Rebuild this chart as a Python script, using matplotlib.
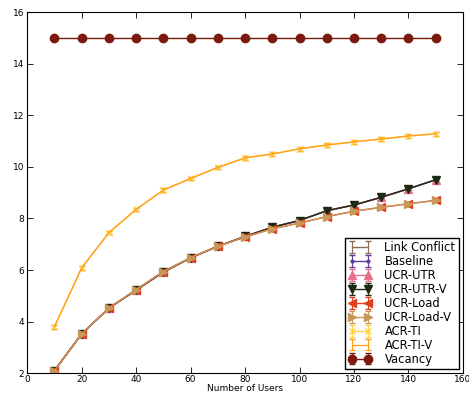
import numpy as np
from matplotlib import pyplot as plt

users = [10, 20, 30, 40, 50, 60, 70, 80, 90, 100, 110, 120, 130, 140, 150]

# upper of the two bottom curves
utr = [2.1, 3.52, 4.52, 5.22, 5.92, 6.47, 6.92, 7.3, 7.66, 7.92, 8.3, 8.52, 8.82, 9.15, 9.5]
# lower of the two bottom curves
load = [2.1, 3.52, 4.52, 5.24, 5.94, 6.48, 6.92, 7.28, 7.6, 7.82, 8.07, 8.28, 8.43, 8.57, 8.7]
acr = [3.8, 6.08, 7.45, 8.35, 9.1, 9.55, 9.98, 10.35, 10.5, 10.7, 10.85, 10.97, 11.08, 11.2, 11.28]
vacancy = [15] * 15

err = [0.07] * 15

series = [
    ("Link Conflict", utr, "#8c6d5a", None),
    ("Baseline", utr, "#5e3c99", "."),
    ("UCR-UTR", utr, "#e7708a", "^"),
    ("UCR-UTR-V", utr, "#1c2a12", "v"),
    ("UCR-Load", load, "#e0401c", "<"),
    ("UCR-Load-V", load, "#c8975a", ">"),
    ("ACR-TI", acr, "#ffd24d", "x"),
    ("ACR-TI-V", acr, "#ff9f1a", None),
    ("Vacancy", vacancy, "#7a1a0e", "o"),
]

plt.rcParams['xtick.direction'] = 'in'
plt.rcParams['ytick.direction'] = 'in'
plt.rcParams['xtick.top'] = True
plt.rcParams['ytick.right'] = True

fig = plt.figure(figsize=(4.69, 3.94), dpi=100)
ax = fig.add_axes([0.058, 0.053, 0.929, 0.916])

for name, vals, col, mk in series:
    ms = 6
    if mk == ".":
        ms = 4
    if mk == "x":
        ms = 5
    ax.errorbar(users, vals, yerr=err, color=col, marker=mk, markersize=ms,
                linewidth=1, capsize=2.5, elinewidth=0.8, label=name)

ax.set_xlim(0, 160)
ax.set_ylim(2, 16)
ax.set_xticks(np.arange(0, 161, 20))
ax.set_yticks(np.arange(2, 17, 2))
ax.tick_params(labelsize=6.5, length=4, width=0.6, pad=2)
ax.tick_params(axis='x', pad=1.5)
for s in ax.spines.values():
    s.set_linewidth(0.8)
ax.set_xlabel("Number of Users", fontsize=6.5, labelpad=0)

leg = ax.legend(loc="lower right", fontsize=8.3, numpoints=2, fancybox=False,
                handlelength=2.0, borderpad=0.3, labelspacing=0.08,
                handletextpad=1.1, borderaxespad=0.35, framealpha=1)
leg.get_frame().set_edgecolor("black")

fig.savefig("out.png", dpi=100)
